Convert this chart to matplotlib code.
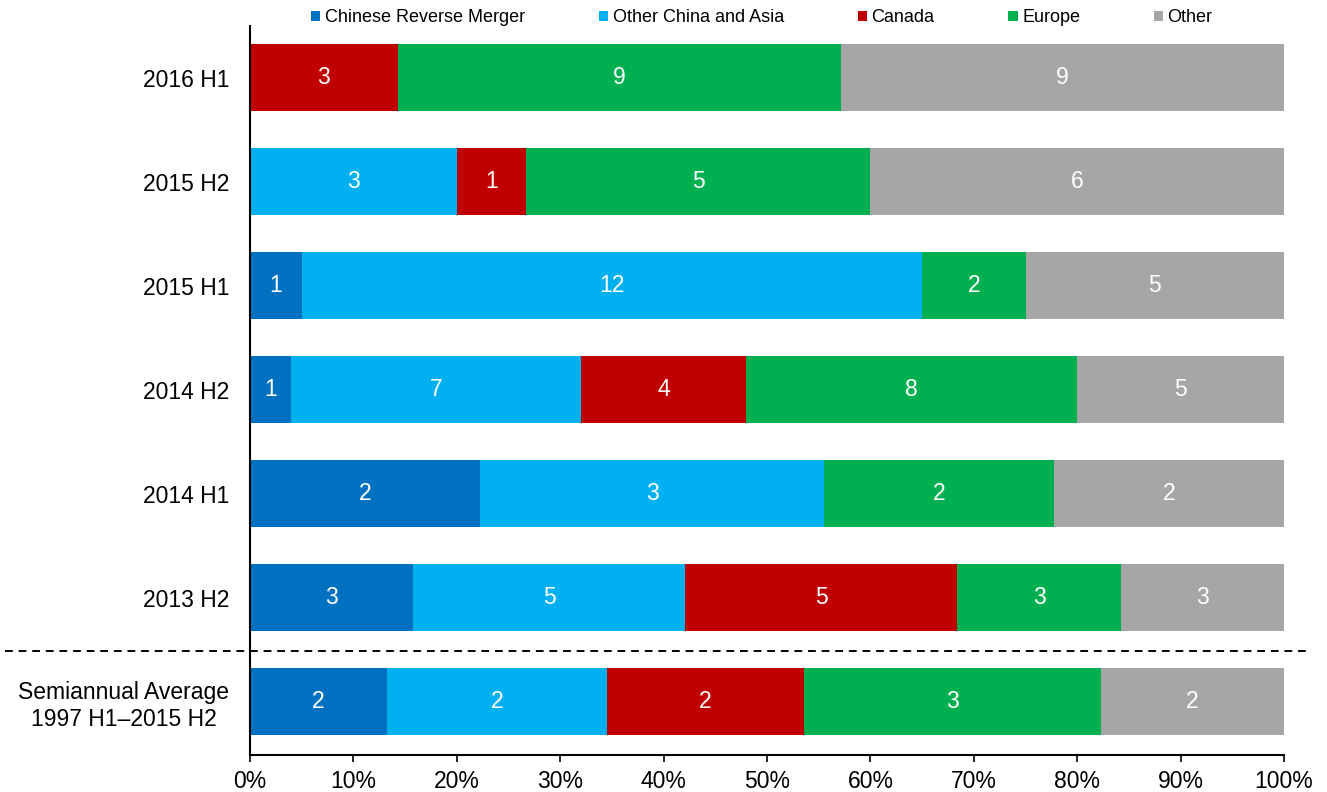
import matplotlib
matplotlib.use("Agg")
import matplotlib.pyplot as plt
from matplotlib.patches import Patch
from matplotlib.lines import Line2D
import numpy as np

plt.rcParams['font.family'] = ['Liberation Sans', 'DejaVu Sans']

categories = ["2016 H1", "2015 H2", "2015 H1", "2014 H2", "2014 H1", "2013 H2",
              "Semiannual Average\n1997 H1\u20132015 H2"]
series_names = ["Chinese Reverse Merger", "Other China and Asia", "Canada", "Europe", "Other"]
chinese_reverse_merger = [0, 0, 1, 1, 2, 3, 1.5]
other_china_asia = [0, 3, 12, 7, 3, 5, 2.4]
canada = [3, 1, 0, 4, 0, 5, 2.15]
europe = [9, 5, 2, 8, 2, 3, 3.25]
other = [9, 6, 5, 5, 2, 3, 2.0]
colors = ["#0070C0", "#00B0F0", "#C00000", "#00B050", "#A6A6A6"]
xtick_labels = ["0%", "10%", "20%", "30%", "40%", "50%", "60%", "70%", "80%", "90%", "100%"]

W, H = 1327, 792
fig = plt.figure(figsize=(W / 100, H / 100), dpi=100)
ax_left, ax_right = 250 / W, 1284 / W
ax_bottom = 1 - 755 / H
ax_top = 1 - 25.5 / H
ax = fig.add_axes([ax_left, ax_bottom, ax_right - ax_left, ax_top - ax_bottom])

data = np.array([chinese_reverse_merger, other_china_asia, canada, europe, other], dtype=float)
totals = data.sum(axis=0)
shares = data / totals * 100
y = np.arange(len(categories))
left = np.zeros(len(categories))
for k in range(len(series_names)):
    ax.barh(y, shares[k], left=left, height=0.645, color=colors[k], label=series_names[k])
    for i in range(len(categories)):
        if data[k, i] > 0:
            ax.text(left[i] + shares[k, i] / 2, y[i], f"{data[k, i]:.0f}",
                    ha="center", va="center", color="white", fontsize=16.5)
    left += shares[k]

ax.set_xlim(0, 100)
ax.set_ylim(6.51, -0.5)
ax.set_xticks(np.arange(0, 101, 10))
ax.set_xticklabels(xtick_labels, fontsize=16.5)
ax.set_yticks(y)
ax.set_yticklabels(categories, fontsize=16.5, multialignment="center")
ax.tick_params(axis="y", length=0, pad=15)
ax.tick_params(axis="x", direction="out", length=5, width=1.2, pad=6)
for s in ["top", "right"]:
    ax.spines[s].set_visible(False)
ax.spines["left"].set_linewidth(1.5)
ax.spines["bottom"].set_linewidth(1.5)

# dashed separator
ysep = 1 - 651 / H
fig.add_artist(Line2D([5 / W, 1310 / W], [ysep, ysep], color="black", lw=1.4,
                      linestyle=(0, (4, 3))))

handles = [Patch(facecolor=c, edgecolor="none") for c in colors]
leg = fig.legend(handles, series_names, loc="center", bbox_to_anchor=(762 / W, 1 - 18 / H),
                 ncol=5, frameon=False, fontsize=13, handlelength=0.5, handleheight=0.5,
                 handletextpad=0.25, columnspacing=4.1, borderaxespad=0, borderpad=0)

fig.savefig("out.png", dpi=100)
